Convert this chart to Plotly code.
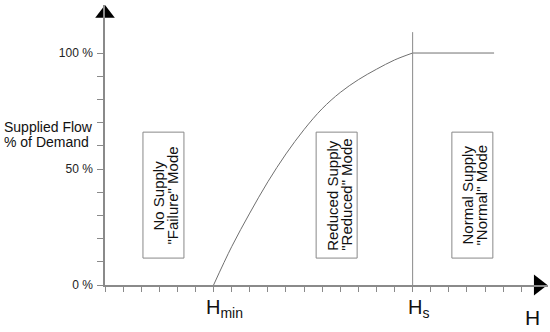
import plotly.graph_objects as go

# Data (x in tick units, y in % of demand)
h_curve = [6, 7, 8, 9, 10, 11, 12, 13, 14, 15, 16, 17]
flow_curve = [0, 16.5, 31, 44.5, 56.5, 67, 76, 83, 88.5, 93, 97, 100]
h_normal = [17, 21.5]
flow_normal = [100, 100]
h_hs_line = [17, 17]
flow_hs_line = [0, 109]
y_tickvals = [0, 10, 20, 30, 40, 50, 60, 70, 80, 90, 100]
y_ticktext = ["0 %", "", "", "", "", "50 %", "", "", "", "", "100 %"]
x_tickvals = list(range(0, 24))
H_MIN, H_S = 6, 17
mode_centers = [3.23, 12.8, 20.3]
mode_line1 = ["No Supply", "Reduced Supply", "Normal Supply"]
mode_line2 = ["\"Failure\" Mode", "\"Reduced\" Mode", "\"Normal\" Mode"]
ylabel_lines = ["Supplied Flow", "% of Demand"]

FONT = "Liberation Sans, Arial, sans-serif"
AXC = "#8a8a8a"
LINEC = "#707070"
TXT = "#111"

fig = go.Figure()
fig.add_trace(go.Scatter(x=h_curve, y=flow_curve, mode="lines",
                         line=dict(color=LINEC, width=1, shape="spline", smoothing=1),
                         cliponaxis=False, hoverinfo="skip"))
fig.add_trace(go.Scatter(x=h_normal, y=flow_normal, mode="lines", line=dict(color=LINEC, width=1),
                         cliponaxis=False, hoverinfo="skip"))
fig.add_trace(go.Scatter(x=h_hs_line, y=flow_hs_line, mode="lines", line=dict(color=AXC, width=1),
                         cliponaxis=False, hoverinfo="skip"))
# Axis arrow heads
fig.add_trace(go.Scatter(x=[0], y=[117], mode="markers", marker=dict(symbol="triangle-up", size=17, color="black"),
                         cliponaxis=False, hoverinfo="skip"))
fig.add_trace(go.Scatter(x=[23.95], y=[0], mode="markers", marker=dict(symbol="triangle-right", size=18, color="black"),
                         cliponaxis=False, hoverinfo="skip"))

BOX_W_UNITS = 41 / 18.1   # box width in x units
BOX_Y0, BOX_Y1 = 11.6, 65.9  # box vertical extent in % units
for xc, l1, l2 in zip(mode_centers, mode_line1, mode_line2):
    fig.add_shape(type="rect", xref="x", yref="y",
                  x0=xc - BOX_W_UNITS / 2, x1=xc + BOX_W_UNITS / 2, y0=BOX_Y0, y1=BOX_Y1,
                  line=dict(color="#888", width=1), fillcolor="white", layer="below")
    ymid = (BOX_Y0 + BOX_Y1) / 2
    fig.add_annotation(x=xc, y=ymid, xshift=-5, text=l1, textangle=-90, showarrow=False,
                       font=dict(family=FONT, size=15, color=TXT))
    fig.add_annotation(x=xc, y=ymid, xshift=9, text=l2, textangle=-90, showarrow=False,
                       font=dict(family=FONT, size=15, color=TXT))

fig.add_annotation(x=H_MIN, y=0, yshift=-23, text="H<sub>min</sub>", showarrow=False,
                   font=dict(family=FONT, size=20, color=TXT), xanchor="center", xshift=11)
fig.add_annotation(x=H_S, y=0, yshift=-23, text="H<sub>s</sub>", showarrow=False,
                   font=dict(family=FONT, size=20, color=TXT), xanchor="center", xshift=6)
fig.add_annotation(x=23.6, y=0, yshift=-32, text="H", showarrow=False,
                   font=dict(family=FONT, size=21, color=TXT), xanchor="center")
fig.add_annotation(x=0, y=68.1, xshift=-103, text=ylabel_lines[0], showarrow=False,
                   font=dict(family=FONT, size=14, color=TXT), xanchor="left")
fig.add_annotation(x=0, y=61.6, xshift=-103, text=ylabel_lines[1], showarrow=False,
                   font=dict(family=FONT, size=14, color=TXT), xanchor="left")

fig.update_layout(
    width=550, height=332,
    margin=dict(l=105, r=2, t=5, b=47),
    plot_bgcolor="white", paper_bgcolor="white",
    showlegend=False,
    xaxis=dict(range=[0, 24.48], showline=True, linecolor=AXC, linewidth=1.5,
               ticks="outside", ticklen=5, tickcolor=AXC, tickvals=x_tickvals,
               showticklabels=False, showgrid=False, zeroline=False, fixedrange=True),
    yaxis=dict(range=[0, 120.7], showline=True, linecolor=AXC, linewidth=1.5,
               ticks="outside", ticklen=6, tickcolor=AXC, tickvals=y_tickvals, ticktext=y_ticktext,
               tickfont=dict(family=FONT, size=12, color="#222"), ticklabelstandoff=2,
               showgrid=False, zeroline=False, fixedrange=True),
)
fig.write_html("out.html", config={"displayModeBar": False},
               post_script="document.body.style.margin='0';document.body.style.overflow='hidden';")
